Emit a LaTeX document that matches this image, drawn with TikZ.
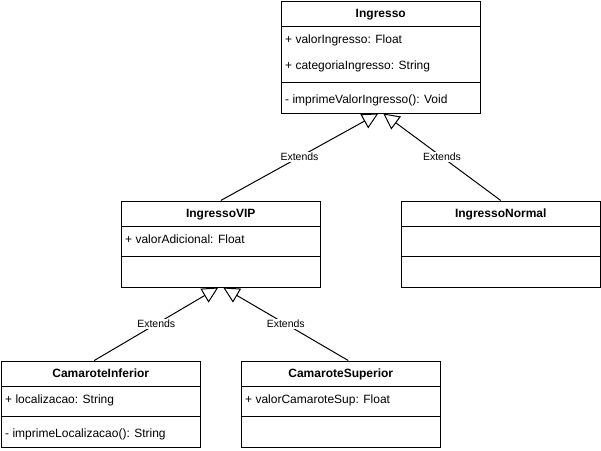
\documentclass[tikz,border=0pt]{standalone}
\usepackage{fontspec}
\setmainfont{Liberation Sans}
\usetikzlibrary{calc,arrows.meta}

\tikzset{
  classbox/.style={draw, rectangle, minimum width=199.5pt, inner sep=0pt, line width=1pt, anchor=north west},
  classname/.style={font=\fontsize{12}{14}\selectfont\bfseries, inner sep=0pt, text height=8.6pt, text depth=0pt},
  member/.style={anchor=west, font=\fontsize{12}{14}\selectfont, inner sep=0pt, text height=8.6pt, text depth=0pt},
  extends/.style={-{Triangle[open, length=16pt, width=16pt]}, line width=1pt},
  extlabel/.style={fill=white, inner sep=1pt, font=\fontsize{10.5}{12}\selectfont}
}

\begin{document}
\begin{tikzpicture}[x=1pt, y=-1pt]
\useasboundingbox (0,0) rectangle (601,450);

% Ingresso
\draw node [classbox, minimum height=112pt] at (280.5,0.5) (ingresso){};
\draw ($ (ingresso.north west)+(0,26)$) -- ($ (ingresso.north east)+(0,26)$);
\draw ($ (ingresso.north west)+(0,82)$) -- ($ (ingresso.north east)+(0,82)$);
\draw node [classname] at ($ (ingresso.north)+(0,13)$) (ingresso-name){Ingresso};
\draw node [member] at ($ (ingresso.north west)+(4.5,39)$) (ingresso-a1){+ valorIngresso: Float};
\draw node [member] at ($ (ingresso.north west)+(4.5,65)$) (ingresso-a2){+ categoriaIngresso: String};
\draw node [member] at ($ (ingresso.north west)+(4.5,99)$) (ingresso-m1){- imprimeValorIngresso(): Void};

% IngressoVIP
\draw node [classbox, minimum height=86pt] at (120.5,200.5) (vip){};
\draw ($ (vip.north west)+(0,26)$) -- ($ (vip.north east)+(0,26)$);
\draw ($ (vip.north west)+(0,56)$) -- ($ (vip.north east)+(0,56)$);
\draw node [classname] at ($ (vip.north)+(0,13)$) (vip-name){IngressoVIP};
\draw node [member] at ($ (vip.north west)+(4.5,39)$) (vip-a1){+ valorAdicional: Float};

% IngressoNormal
\draw node [classbox, minimum height=86pt] at (400.5,200.5) (normal){};
\draw ($ (normal.north west)+(0,26)$) -- ($ (normal.north east)+(0,26)$);
\draw ($ (normal.north west)+(0,56)$) -- ($ (normal.north east)+(0,56)$);
\draw node [classname] at ($ (normal.north)+(0,13)$) (normal-name){IngressoNormal};

% CamaroteInferior
\draw node [classbox, minimum height=86pt] at (0.5,360.5) (caminf){};
\draw ($ (caminf.north west)+(0,26)$) -- ($ (caminf.north east)+(0,26)$);
\draw ($ (caminf.north west)+(0,56)$) -- ($ (caminf.north east)+(0,56)$);
\draw node [classname] at ($ (caminf.north)+(0,13)$) (caminf-name){CamaroteInferior};
\draw node [member] at ($ (caminf.north west)+(4.5,39)$) (caminf-a1){+ localizacao: String};
\draw node [member] at ($ (caminf.north west)+(4.5,73)$) (caminf-m1){- imprimeLocalizacao(): String};

% CamaroteSuperior
\draw node [classbox, minimum height=86pt] at (240.5,360.5) (camsup){};
\draw ($ (camsup.north west)+(0,26)$) -- ($ (camsup.north east)+(0,26)$);
\draw ($ (camsup.north west)+(0,56)$) -- ($ (camsup.north east)+(0,56)$);
\draw node [classname] at ($ (camsup.north)+(0,13)$) (camsup-name){CamaroteSuperior};
\draw node [member] at ($ (camsup.north west)+(4.5,39)$) (camsup-a1){+ valorCamaroteSup: Float};

% generalizations
\draw[extends] (vip.north) -- node[extlabel] (ext-vip){Extends} ($ (ingresso.south)+(-2.5,0)$);
\draw[extends] (normal.north) -- node[extlabel] (ext-normal){Extends} ($ (ingresso.south)+(2.5,0)$);
\draw[extends] ($ (caminf.north)+(-6.5,0)$) -- node[extlabel] (ext-caminf){Extends} ($ (vip.south)+(-2.5,0)$);
\draw[extends] ($ (camsup.north)+(7.5,0)$) -- node[extlabel] (ext-camsup){Extends} ($ (vip.south)+(2.5,0)$);

\end{tikzpicture}
\end{document}
